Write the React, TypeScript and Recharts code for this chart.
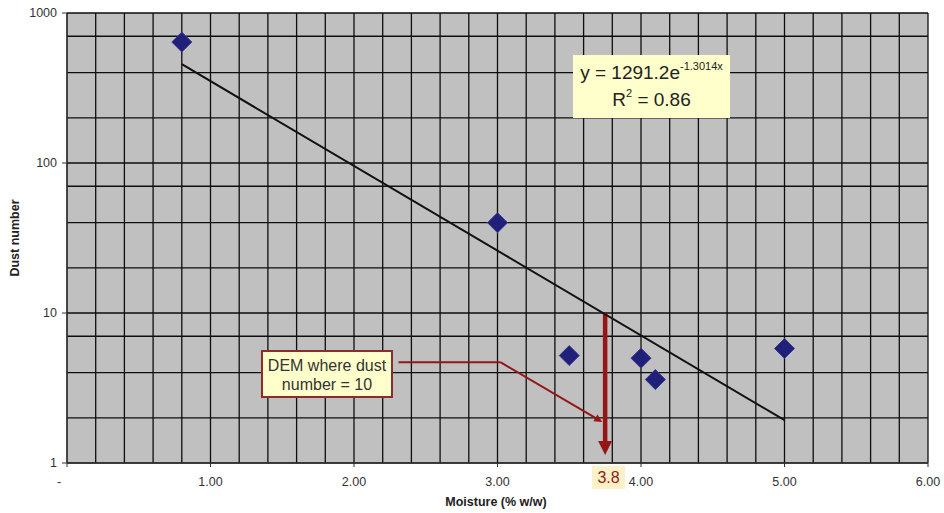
import React from 'react';
import {
  ComposedChart, Scatter, XAxis, YAxis, CartesianGrid, ReferenceLine,
} from 'recharts';

// measured samples: moisture (% w/w) vs dust number
const moisture = [0.8, 3.0, 3.5, 4.0, 4.1, 5.0];
const dustNumber = [640, 40, 5.2, 5.0, 3.6, 5.8];

// exponential trendline end points (straight on log axis)
const trendMoisture = [0.8, 5.0];
const trendDust = [456, 1.93];

const xTicks = [0, 1, 2, 3, 4, 5, 6];
const yTicks = [1, 10, 100, 1000];

// minor grid: every 0.2 on x, 1..9 per decade on y
const xGrid = Array.from({ length: 31 }, (_, i) => Math.round(i * 2) / 10);
const yGrid = [1, 10, 100].flatMap((d) => [1, 2, 3, 4, 5, 6, 7, 8, 9].map((m) => m * d)).concat([1000]);

// annotation arrows (data coordinates)
const demArrow = [{ x: 3.75, y: 10 }, { x: 3.75, y: 1.13 }];
const calloutLeg1 = [{ x: 2.31, y: 4.7 }, { x: 3.02, y: 4.7 }];
const calloutLeg2 = [{ x: 3.02, y: 4.7 }, { x: 3.73, y: 1.88 }];

const points = moisture.map((x, i) => ({ x, y: dustNumber[i] }));
const trend = trendMoisture.map((x, i) => ({ x, y: trendDust[i] }));

const FONT = 'Arial, "Liberation Sans", Helvetica, sans-serif';
const RED = '#941616';

const Diamond = (p: any) => {
  const { cx, cy } = p;
  const r = 10;
  return (
    <polygon
      points={`${cx},${cy - r} ${cx + r},${cy} ${cx},${cy + r} ${cx - r},${cy}`}
      fill="#20207a"
      stroke="#3a3a8c"
      strokeWidth={1}
    />
  );
};

const arrowShape = (width: number, head: number, withHead: boolean) => (p: any) => {
  const { x1, y1, x2, y2 } = p;
  const dx = x2 - x1;
  const dy = y2 - y1;
  const len = Math.sqrt(dx * dx + dy * dy) || 1;
  const ux = dx / len;
  const uy = dy / len;
  const bx = x2 - ux * head;
  const by = y2 - uy * head;
  const hw = head / 2;
  return (
    <g>
      <line x1={x1} y1={y1} x2={withHead ? bx : x2} y2={withHead ? by : y2} stroke={RED} strokeWidth={width} />
      {withHead && (
        <polygon
          points={`${x2},${y2} ${bx - uy * hw},${by + ux * hw} ${bx + uy * hw},${by - ux * hw}`}
          fill={RED}
        />
      )}
    </g>
  );
};

const XTick = (p: any) => {
  const { x, y, payload } = p;
  const v = payload.value as number;
  return (
    <text x={v === 0 ? x - 8 : x} y={y} dy="0.71em" textAnchor="middle" fill="#333" fontSize={12.5} fontFamily={FONT}>
      {v === 0 ? '-' : v.toFixed(2)}
    </text>
  );
};

export default function App() {
  return (
    <div style={{ position: 'absolute', left: 0, top: 0, width: 944, height: 513, background: '#fff', fontFamily: FONT }}>
      <ComposedChart width={944} height={513} margin={{ top: 13, right: 16, bottom: 0, left: 0 }}>
        <CartesianGrid
          fill="#c0c0c0"
          fillOpacity={1}
          stroke="#0e0e0e"
          strokeWidth={1.3}
          horizontalValues={yGrid}
          verticalValues={xGrid}
        />
        <XAxis
          type="number"
          dataKey="x"
          domain={[0, 6]}
          ticks={xTicks}
          height={50}
          tick={<XTick />}
          tickSize={4}
          tickMargin={10}
          stroke="#333"
          allowDataOverflow
        />
        <YAxis
          type="number"
          dataKey="y"
          scale="log"
          domain={[1, 1000]}
          ticks={yTicks}
          width={67}
          tickSize={5}
          tickMargin={5}
          stroke="#333"
          tick={{ fill: '#333', fontSize: 12.5, fontFamily: FONT }}
          allowDataOverflow
        />
        <Scatter
          data={trend}
          line={{ stroke: '#111', strokeWidth: 2 }}
          shape={() => <g />}
          isAnimationActive={false}
        />
        <Scatter data={points} shape={Diamond} isAnimationActive={false} />
        <ReferenceLine segment={demArrow} shape={arrowShape(4.5, 14, true)} />
        <ReferenceLine segment={calloutLeg1} shape={arrowShape(2, 0, false)} />
        <ReferenceLine segment={calloutLeg2} shape={arrowShape(2, 8, true)} />
      </ComposedChart>

      <div style={{ position: 'absolute', left: 0, top: 198, width: 30, height: 80, display: 'flex', alignItems: 'center', justifyContent: 'center' }}>
        <div style={{ transform: 'rotate(-90deg)', whiteSpace: 'nowrap', fontWeight: 'bold', fontSize: 12.5, color: '#222' }}>
          Dust number
        </div>
      </div>
      <div style={{ position: 'absolute', left: 396, top: 495, width: 200, textAlign: 'center', fontWeight: 'bold', fontSize: 12.5, color: '#222' }}>
        Moisture (% w/w)
      </div>

      <div style={{ position: 'absolute', left: 573, top: 55, width: 157, height: 63, background: '#ffffcc', color: '#222', fontSize: 19, textAlign: 'center', lineHeight: '27px', paddingTop: 4, boxSizing: 'border-box' }}>
        <div>y = 1291.2e<sup style={{ fontSize: 11, verticalAlign: 'top', lineHeight: '14px' }}>-1.3014x</sup></div>
        <div>R<sup style={{ fontSize: 11, verticalAlign: 'top', lineHeight: '14px' }}>2</sup> = 0.86</div>
      </div>

      <div style={{ position: 'absolute', left: 261, top: 350, width: 132, height: 48, boxSizing: 'border-box', background: '#ffffcc', border: '2px solid #8b2b2b', color: '#333', fontSize: 16, textAlign: 'center', lineHeight: '19px', paddingTop: 4 }}>
        DEM where dust<br />number = 10
      </div>

      <div style={{ position: 'absolute', left: 592, top: 466, width: 33, height: 23, background: '#fdf1c9', color: '#8b2414', fontSize: 16, textAlign: 'center', lineHeight: '23px' }}>
        3.8
      </div>
    </div>
  );
}
